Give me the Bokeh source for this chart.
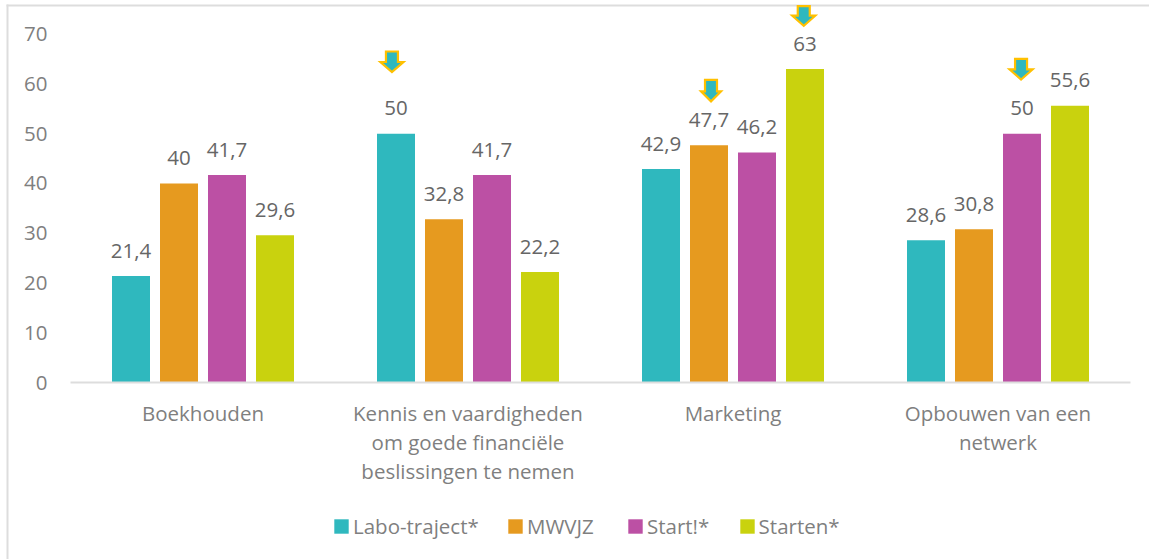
from bokeh.plotting import figure
from bokeh.models import ColumnDataSource, Range1d, FixedTicker, Legend, LegendItem, BoxAnnotation
from bokeh.core.properties import value
from bokeh.embed import file_html
from bokeh.resources import INLINE

categories = ["Boekhouden",
              "Kennis en vaardigheden\nom goede financiële\nbeslissingen te nemen",
              "Marketing",
              "Opbouwen van een\nnetwerk"]
series = ["Labo-traject*", "MWVJZ", "Start!*", "Starten*"]
labo = [21.4, 50, 42.9, 28.6]
mwvjz = [40, 32.8, 47.7, 30.8]
start = [41.7, 41.7, 46.2, 50]
starten = [29.6, 22.2, 63, 55.6]
colors = ["#2FB8BE", "#E69A1F", "#BC50A4", "#C9D20E"]
y_ticks = [0, 10, 20, 30, 40, 50, 60, 70]
# arrows: category index, horizontal offset in the category, y of the tip, half width, height
arrow_cat = [1, 2, 2, 3]
arrow_off = [-0.287, -0.083, 0.267, 0.087]
arrow_tip = [62.4, 56.5, 71.7, 60.9]
arrow_hw = [11.5, 10, 11.5, 11.5]
arrow_h = [20.5, 21.5, 19.5, 20.5]

FONT = "Open Sans"
PXY = 1 / 4.976
PXX = 1 / 265
H, W = 559, 1149
LEFT, AXIS_Y = 70, 382
centers = [i + 0.5 for i in range(len(categories))]
p = figure(width=W, height=H, output_backend="svg", toolbar_location=None,
           x_range=Range1d(-LEFT * PXX, 4 + 19 * PXX),
           y_range=Range1d(-(H - AXIS_Y) * PXY, AXIS_Y * PXY),
           min_border_left=0, min_border_right=0, min_border_top=0, min_border_bottom=0,
           margin=(0, 0, 0, 0), outline_line_color=None, border_fill_color="white")
p.grid.visible = False

BAR = 38 / 265
STEP = 48 / 265
renderers = []
for i, (name, vals, col) in enumerate(zip(series, [labo, mwvjz, start, starten], colors)):
    off = (i - 1.5) * STEP
    src = ColumnDataSource(dict(x=[c + off for c in centers], v=vals,
                                t=[str(x).replace(".", ",") for x in vals]))
    r = p.vbar(x="x", top="v", width=BAR, bottom=0, source=src, fill_color=col, line_color=None)
    renderers.append(r)
    p.text(x="x", y="v", text="t", source=src,
           text_font=value(FONT), text_font_size="20.5px", text_color="#666666",
           text_align="center", text_baseline="middle", y_offset=-25.5)

# chart-area border: left and top lines (screen units, y upward from the frame's bottom)
p.add_layout(BoxAnnotation(left=6, right=8, top=H - 4, bottom=0,
                           left_units="screen", right_units="screen", top_units="screen", bottom_units="screen",
                           fill_color="#dddddd", fill_alpha=1, line_color=None, level="underlay"))
p.add_layout(BoxAnnotation(left=6, right=W, top=H - 4, bottom=H - 6,
                           left_units="screen", right_units="screen", top_units="screen", bottom_units="screen",
                           fill_color="#dddddd", fill_alpha=1, line_color=None, level="underlay"))

# arrows
xs, ys = [], []
for c, o, tip, hw, h in zip(arrow_cat, arrow_off, arrow_tip, arrow_hw, arrow_h):
    cx = c + 0.5 + o
    shape = [(-6, h), (6, h), (6, 10), (hw, 10), (0, 0), (-hw, 10), (-6, 10)]
    xs.append([cx + dx * PXX for dx, dy in shape])
    ys.append([tip + dy * PXY for dx, dy in shape])
p.patches(xs, ys, fill_color="#2FB8BE", line_color="#FFC000", line_width=2.2, line_join="miter")

ax = p.xaxis[0]
ax.fixed_location = 0
ax.bounds = (0, 4)
ax.ticker = FixedTicker(ticks=centers)
ax.major_label_overrides = dict(zip(centers, categories))
ax.axis_line_color = "#dddddd"
ax.axis_line_width = 2
ax.major_tick_line_color = None
ax.minor_tick_line_color = None
ax.major_label_standoff = 10
ax.major_label_text_font = FONT
ax.major_label_text_font_size = "20.5px"
ax.major_label_text_color = "#7f7f7f"
ax.major_label_text_line_height = 1.04
ay = p.yaxis[0]
ay.fixed_location = 0
ay.ticker = FixedTicker(ticks=y_ticks)
ay.axis_line_color = None
ay.major_tick_line_color = None
ay.minor_tick_line_color = None
ay.major_label_standoff = 17
ay.major_label_text_font = FONT
ay.major_label_text_font_size = "20.5px"
ay.major_label_text_color = "#7f7f7f"

legend_x = [332, 506, 626, 737.6]
for name, r, lx in zip(series, renderers, legend_x):
    p.add_layout(Legend(items=[LegendItem(label=name, renderers=[r])], location=(lx, 19),
                        glyph_width=18, glyph_height=18, label_standoff=3, padding=0, margin=0,
                        border_line_color=None, background_fill_alpha=0,
                        label_text_font=FONT, label_text_font_size="20.5px", label_text_color="#7f7f7f"))

open("out.html", "w").write(file_html(p, INLINE))
